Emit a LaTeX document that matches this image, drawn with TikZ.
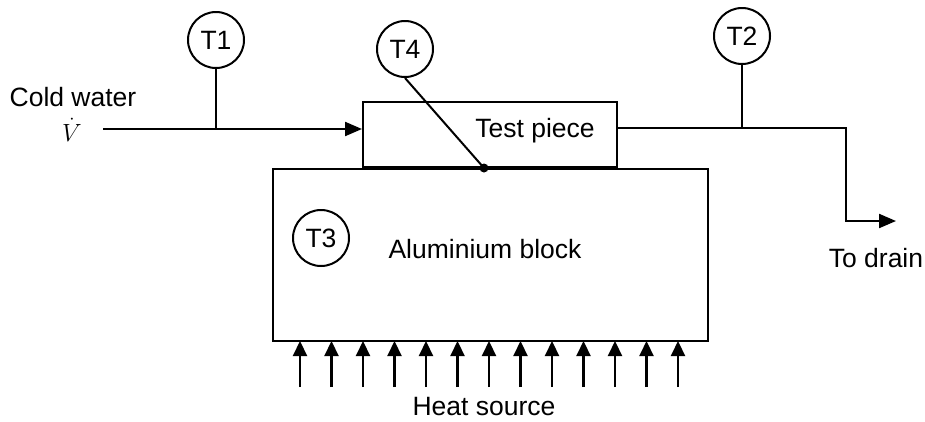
\documentclass[tikz,border=0pt]{standalone}
\usepackage{fontspec}
\setmainfont{Liberation Sans}
\usetikzlibrary{arrows.meta}
\begin{document}
\begin{tikzpicture}[x=1pt,y=-1pt,
  every node/.style={font=\fontsize{26.5}{31}\selectfont},
  txt/.style={anchor=base,inner sep=0pt},
  thick line/.style={line width=2.2pt},
  thin line/.style={line width=1.2pt},
  sensor/.style={circle,draw,line width=2pt,minimum size=56pt,inner sep=0pt},
  flow/.style={thick line,-{Triangle[length=17pt,width=14pt]}},
  heat/.style={line width=2.2pt,-{Triangle[length=15pt,width=14pt]}}]
\useasboundingbox (0,0) rectangle (925,421);
% blocks
\node[draw,thick line,minimum width=435pt,minimum height=172pt,inner sep=0pt,anchor=north west] (block) at (272,168) {};
\node[draw,thick line,minimum width=254pt,minimum height=65pt,inner sep=0pt,anchor=south west] (piece) at (362,168) {};
\node[txt] (plbl) at (535,137) {Test piece};
\node[txt] (albl) at (485,258) {Aluminium block};
% sensors
\node[sensor] (T1) at (216,40) {T1};
\node[sensor] (T4) at (405,49) {T4};
\node[sensor] (T2) at (742,36) {T2};
\node[sensor] (T3) at (321,238) {T3};
% inlet
\node[txt,text depth=0pt] (cw) at (73,106) {Cold water};
\node[txt] (vdot) at (72,141) {$\dot{V}$};
\coordinate (inStart) at (103,129);
\coordinate (inEnd) at (piece.west |- inStart);
\draw[flow] (inStart) -- (inEnd);
\coordinate (j1) at (T1.center |- inStart);
\draw[thin line] (T1.south) -- (j1);
% T4 probe
\coordinate (probe) at (484,168);
\draw[line width=2pt] (T4.south) -- (probe);
\fill (probe) circle (4.5pt);
% outlet
\coordinate (outStart) at (piece.east |- 0,128);
\coordinate (c1) at (846,128);
\coordinate (c2) at (846,221);
\coordinate (outEnd) at (896,221);
\draw[flow] (outStart) -- (c1) -- (c2) -- (outEnd);
\coordinate (j2) at (T2.center |- outStart);
\draw[thin line] (T2.south) -- (j2);
\node[txt] (drain) at (876,267) {To drain};
% heat arrows
\foreach \i in {0,...,12} {
  \coordinate (h\i) at ({300+31.5*\i},387);
  \coordinate (t\i) at ({300+31.5*\i},341);
  \draw[heat] (h\i) -- (t\i);
}
\node[txt] (heatlbl) at (484,415) {Heat source};
\end{tikzpicture}
\end{document}
